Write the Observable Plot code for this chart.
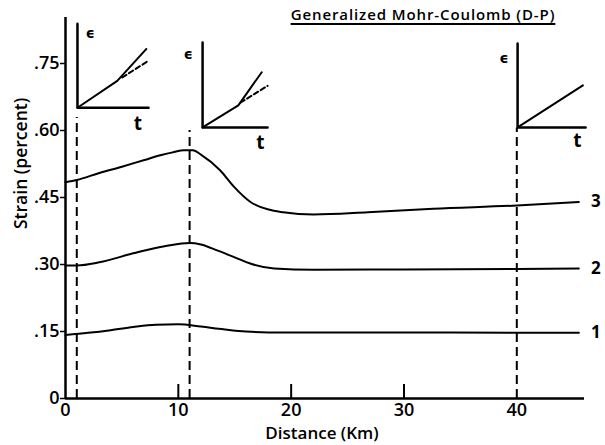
<!DOCTYPE html>
<html><head><meta charset="utf-8">
<script src="https://cdn.jsdelivr.net/npm/d3@7"></script>
<script src="https://cdn.jsdelivr.net/npm/@observablehq/plot@0.6"></script>
<style>
body{margin:0;background:#fff;}
#wrap{position:relative;width:605px;height:445px;}
#title{position:absolute;left:288px;top:4px;width:270px;text-align:center;font:600 15px "Open Sans";letter-spacing:0.9px;text-decoration:underline;text-underline-offset:3px;text-decoration-thickness:1.5px;color:#000;white-space:nowrap;}
</style></head>
<body><div id="wrap"><div id="title">Generalized Mohr-Coulomb (D-P)</div></div>
<script>
// Curve data (distance in km, strain in percent)
const distance1 = [0, 2, 4, 6, 8, 10, 12, 14, 16, 18, 22, 30, 40, 45.5];
const strain1   = [0.142, 0.147, 0.153, 0.160, 0.165, 0.166, 0.161, 0.155, 0.150, 0.148, 0.148, 0.148, 0.147, 0.147];
const distance2 = [0, 1, 3, 6, 9, 11, 12, 13.5, 15, 16.5, 18.5, 22, 30, 40, 45.5];
const strain2   = [0.298, 0.298, 0.305, 0.325, 0.342, 0.348, 0.345, 0.331, 0.316, 0.301, 0.291, 0.288, 0.289, 0.290, 0.291];
const distance3 = [0, 1, 3, 5, 7, 8.5, 9.5, 10.5, 11.3, 12, 13.7, 14.9, 16.4, 18, 19.3, 22, 26.8, 32.6, 40, 45.5];
const strain3   = [0.484, 0.489, 0.505, 0.519, 0.534, 0.545, 0.551, 0.556, 0.556, 0.546, 0.511, 0.475, 0.440, 0.423, 0.417, 0.412, 0.417, 0.425, 0.432, 0.440];
const curveNames = ["1", "2", "3"];

// Axes
const yTicks = [0, 0.15, 0.30, 0.45, 0.60, 0.75];
const yTickLabels = ["0", ".15", ".30", ".45", ".60", ".75"];
const xTicks = [0, 10, 20, 30, 40];
const xTickLabels = ["0", "10", "20", "30", "40"];
const innerXTicks = [10, 20, 30];

// Dashed reference lines
const dashDistance = [1, 11, 40];
const dashTop = [0.629, 0.600, 0.605];

// Inset schematic plots (origin in data units, size, shape in local 0..1 units)
const insetX = [1.06, 12.15, 40.07];
const insetY = [0.651, 0.607, 0.607];
const insetW = [6.3, 5.76, 6.03];
const insetH = [0.188, 0.190, 0.188];
const insetSolid = [[[0,0],[0.56,0.32],[0.97,0.70]], [[0,0],[0.55,0.26],[0.91,0.65]], [[0,0],[0.96,0.5]]];
const insetDashed = [[[0.63,0.36],[1.0,0.56]], [[0.58,0.29],[1.0,0.49]], []];
const insetEps = [[0.18,0.88],[-0.22,0.86],[-0.20,0.82]];
const insetT = [[0.85,-0.19],[0.89,-0.18],[0.88,-0.16]];

const series = [[distance1, strain1], [distance2, strain2], [distance3, strain3]];
const curves = series.flatMap(([ds, ss], i) => ds.map((d, j) => ({d, s: ss[j], c: curveNames[i]})));
const ends = series.map(([ds, ss], i) => ({d: ds[ds.length-1], s: ss[ss.length-1], c: curveNames[i]}));
const dashes = dashDistance.map((d, i) => ({d, top: dashTop[i]}));
const yLab = yTicks.map((v, i) => ({v, t: yTickLabels[i]}));
const xLab = xTicks.map((v, i) => ({v, t: xTickLabels[i]}));

const toData = (i, [u, v]) => ({d: insetX[i] + u * insetW[i], s: insetY[i] + v * insetH[i], k: i});
const insetAxes = insetX.flatMap((_, i) => [[0,1],[0,0],[1,0]].map(p => toData(i, p)));
const insetSolidPts = insetSolid.flatMap((pts, i) => pts.map(p => toData(i, p)));
const insetDashedPts = insetDashed.flatMap((pts, i) => pts.map(p => toData(i, p)));
const epsPts = insetEps.map((p, i) => toData(i, p));
const tPts = insetT.map((p, i) => toData(i, p));

const chart = Plot.plot({
  width: 605, height: 445,
  marginLeft: 65, marginRight: 21, marginTop: 17, marginBottom: 47,
  x: {domain: [0, 46], axis: null},
  y: {domain: [0, 0.853], axis: null},
  style: {fontFamily: "Open Sans", fontSize: "17px", fontWeight: 600, color: "#000", background: "#fff"},
  marks: [
    Plot.axisY({ticks: yTicks, tickFormat: () => "", tickSize: 5, label: null, strokeWidth: 1.5}),
    Plot.text(yLab, {x: 0, y: "v", text: "t", dx: -6, textAnchor: "end", fontSize: 18}),
    Plot.text(xLab, {x: "v", text: "t", frameAnchor: "bottom", dy: 17, fontSize: 18}),
    Plot.ruleX([0], {strokeWidth: 2.5}),
    Plot.ruleY([0], {strokeWidth: 2.5}),
    Plot.ruleX(innerXTicks, {insetTop: 381 - 14, strokeWidth: 2}),
    Plot.ruleX(dashes, {x: "d", y1: 0, y2: "top", strokeDasharray: "9,5", strokeWidth: 2}),
    Plot.line(curves, {x: "d", y: "s", z: "c", curve: "monotone-x", strokeWidth: 2}),
    Plot.text(ends, {x: "d", y: "s", text: "c", dx: 17, fontSize: 17, fontWeight: 700}),
    Plot.line(insetAxes, {x: "d", y: "s", z: "k", strokeWidth: 2.5}),
    Plot.line(insetSolidPts, {x: "d", y: "s", z: "k", strokeWidth: 2}),
    Plot.line(insetDashedPts, {x: "d", y: "s", z: "k", strokeWidth: 2, strokeDasharray: "5,3"}),
    Plot.text(epsPts, {x: "d", y: "s", text: () => "ϵ", fontSize: 14, fontWeight: 700, fontFamily: "DejaVu Sans"}),
    Plot.text(tPts, {x: "d", y: "s", text: () => "t", fontSize: 19, fontWeight: 700}),
    Plot.text(["Strain (percent)"], {text: d => d, frameAnchor: "left", rotate: -90, dx: -44, dy: 21, fontSize: 17.5}),
    Plot.text(["Distance (Km)"], {text: d => d, frameAnchor: "bottom", dx: -3, dy: 40, fontSize: 17})
  ]
});
document.getElementById("wrap").prepend(chart);
</script>
</body></html>
